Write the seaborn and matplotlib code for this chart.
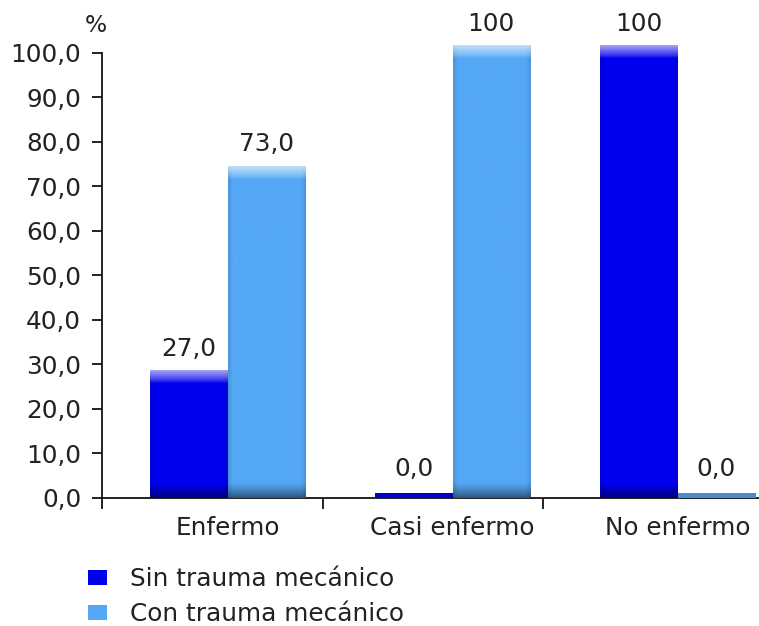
import numpy as np
import pandas as pd
import matplotlib
matplotlib.use("Agg")
import matplotlib.pyplot as plt
from matplotlib.patches import Patch
import matplotlib.colors as mcolors
import seaborn as sns

# ---- data ----
categories = ["Enfermo", "Casi enfermo", "No enfermo"]
series = ["Sin trauma mecánico", "Con trauma mecánico"]
sin_values = [27.0, 0.0, 100.0]
con_values = [73.0, 100.0, 0.0]
sin_labels = ["27,0", "0,0", "100"]
con_labels = ["73,0", "100", "0,0"]
y_ticks = [0, 10, 20, 30, 40, 50, 60, 70, 80, 90, 100]
y_ticklabels = ["0,0", "10,0", "20,0", "30,0", "40,0", "50,0", "60,0", "70,0", "80,0", "90,0", "100,0"]

colors = {"Sin trauma mecánico": "#0000F0", "Con trauma mecánico": "#55A8F5"}
text_color = "#222222"
FS = 17.8

df = pd.DataFrame({
    "cat": categories * 2,
    "serie": [series[0]] * 3 + [series[1]] * 3,
    "val": sin_values + con_values,
    "lab": sin_labels + con_labels,
})

sns.set_style("white")
plt.rcParams["font.family"] = ["DejaVu Sans"]

fig = plt.figure(figsize=(7.59, 6.26), dpi=100)
ax = fig.add_axes([102 / 759, 128 / 626, 657 / 759, 460.6 / 626])

sns.barplot(data=df, x="cat", y="val", hue="serie", order=categories,
            hue_order=series, palette=colors, width=0.69, gap=0,
            legend=False, ax=ax, saturation=1)

XL = (-0.558, 2.362)
YL = (0, 103.5)
ax.set_xlim(*XL)
ax.set_ylim(*YL)
ppu = ax.bbox.height / (YL[1] - YL[0])  # pixels per data unit
ppx = ax.bbox.width / (XL[1] - XL[0])

# gradient-shaded bars (3D look) over seaborn bars
bars = [p for p in ax.patches if p.get_width() > 0]
for p in bars:
    x0, w, h = p.get_x(), p.get_width(), p.get_height()
    base = np.array(mcolors.to_rgb(p.get_facecolor()))
    cap = 1.6 if h > 0 else 1.0
    top = h + cap
    npy = max(int(top * ppu), 2)
    npx = max(int(w * ppx), 2)
    ypx = np.arange(npy)[:, None] + 0.5          # from bottom, in px
    xpx = np.arange(npx)[None, :] + 0.5
    dist_top = npy - ypx
    dist_edge = np.minimum(xpx, npx - xpx)
    dark = 1 - 0.5 * np.clip(1 - ypx / 16.0, 0, 1) ** 1.3
    edge = 1 - 0.12 * np.clip(1 - dist_edge / 5.0, 0, 1)
    light = 0.65 * np.clip(1 - dist_top / 13.0, 0, 1) ** 0.8
    rgb = base[None, None, :] * (dark * edge)[:, :, None]
    rgb = rgb * (1 - light[:, :, None]) + light[:, :, None] * np.array([1, 1, 1])[None, None, :]
    if h == 0:
        rgb = base[None, None, :] * 0.85 * np.ones((npy, npx, 1))
    ax.imshow(rgb, extent=[x0, x0 + w, 0, top], origin="lower",
              aspect="auto", zorder=3, interpolation="bilinear")
    p.set_visible(False)

ax.set_xlim(*XL)
ax.set_ylim(*YL)

# value labels
for p in bars:
    cx = p.get_x() + p.get_width() / 2
    ci = int(round(cx))
    si = 0 if cx < ci else 1
    row = df[(df["cat"] == categories[ci]) & (df["serie"] == series[si])].iloc[0]
    ax.annotate(row["lab"], (cx, row["val"]), xytext=(0, 12), textcoords="offset points",
                ha="center", va="bottom", fontsize=FS, color=text_color, zorder=5)

# axes styling
for s in ["top", "right"]:
    ax.spines[s].set_visible(False)
ax.spines["left"].set_bounds(0, 100)
for s in ["left", "bottom"]:
    ax.spines[s].set_color("#111111")
    ax.spines[s].set_linewidth(1.3)
ax.set_yticks(y_ticks)
ax.set_yticklabels(y_ticklabels)
ax.tick_params(axis="y", left=True, length=7, width=1.3, color="#111111", pad=8,
               labelsize=FS, labelcolor=text_color)
ax.set_xticks(range(len(categories)))
ax.set_xticklabels(categories)
ax.set_xticks([-0.558, 0.424, 1.402], minor=True)
ax.tick_params(axis="x", which="major", length=0, pad=13, labelsize=FS, labelcolor=text_color)
ax.tick_params(axis="x", which="minor", bottom=True, length=8, width=1.3, color="#111111")
ax.set_xlabel("")
ax.set_ylabel("")

fig.text(96 / 759, 1 - 25 / 626, "%", ha="center", va="center", fontsize=FS - 1, color=text_color)

handles = [Patch(facecolor=colors[s], edgecolor="none", label=s) for s in series]
fig.legend(handles=handles, loc="upper left", bbox_to_anchor=(88 / 759, 1 - 567 / 626),
           frameon=False, fontsize=FS, handlelength=0.75, handleheight=0.55,
           handletextpad=0.95, labelspacing=0.45, borderpad=0, borderaxespad=0,
           labelcolor=text_color)

fig.savefig("out.png", dpi=100)
